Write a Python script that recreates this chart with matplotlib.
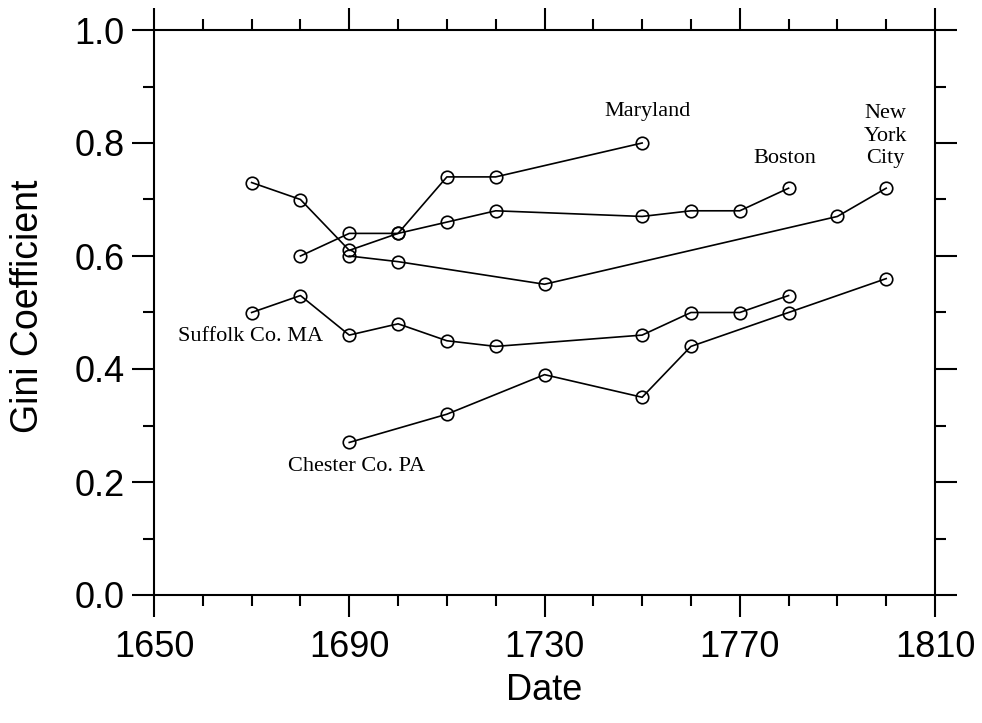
import matplotlib
matplotlib.use("Agg")
import matplotlib.pyplot as plt
from matplotlib.ticker import MultipleLocator

# Data
maryland_x = [1680, 1690, 1700, 1710, 1720, 1750]
maryland_y = [0.60, 0.64, 0.64, 0.74, 0.74, 0.80]

boston_x = [1670, 1680, 1690, 1700, 1710, 1720, 1750, 1760, 1770, 1780]
boston_y = [0.73, 0.70, 0.61, 0.64, 0.66, 0.68, 0.67, 0.68, 0.68, 0.72]

nyc_x = [1690, 1700, 1730, 1790, 1800]
nyc_y = [0.60, 0.59, 0.55, 0.67, 0.72]

suffolk_x = [1670, 1680, 1690, 1700, 1710, 1720, 1750, 1760, 1770, 1780]
suffolk_y = [0.50, 0.53, 0.46, 0.48, 0.45, 0.44, 0.46, 0.50, 0.50, 0.53]

chester_x = [1690, 1710, 1730, 1750, 1760, 1780, 1800]
chester_y = [0.27, 0.32, 0.39, 0.35, 0.44, 0.50, 0.56]

series = [
    (maryland_x, maryland_y),
    (boston_x, boston_y),
    (nyc_x, nyc_y),
    (suffolk_x, suffolk_y),
    (chester_x, chester_y),
]

labels = ["Maryland", "Boston", "New\nYork\nCity", "Suffolk Co. MA", "Chester Co. PA"]
label_x = [1751.2, 1779.3, 1799.8, 1669.8, 1691.6]
label_y = [0.855, 0.773, 0.812, 0.457, 0.228]

x_ticks = [1650, 1690, 1730, 1770, 1810]
y_ticks = [0.0, 0.2, 0.4, 0.6, 0.8, 1.0]

plt.rcParams['font.family'] = ['Liberation Sans', 'DejaVu Sans']

fig = plt.figure(figsize=(9.82, 7.23), dpi=100)
ax = fig.add_axes([154 / 982, 1 - 595 / 723, 781 / 982, 565 / 723])

for xs, ys in series:
    ax.plot(xs, ys, color='black', lw=1.2, marker='o', markersize=9,
            markerfacecolor='none', markeredgecolor='black', markeredgewidth=1.2)

for t, lx, ly in zip(labels, label_x, label_y):
    ax.text(lx, ly, t, ha='center', va='center', fontsize=16,
            family=['Liberation Serif', 'DejaVu Serif'], linespacing=1.25)

ax.set_xlim(1650, 1810)
ax.set_ylim(0, 1.0)
ax.set_xticks(x_ticks)
ax.set_yticks(y_ticks)
ax.set_xticklabels([str(v) for v in x_ticks])
ax.set_yticklabels([f"{v:.1f}" for v in y_ticks])
ax.xaxis.set_minor_locator(MultipleLocator(10))
ax.yaxis.set_minor_locator(MultipleLocator(0.1))

for s in ax.spines.values():
    s.set_linewidth(1.5)

ax.tick_params(which='both', direction='out', top=True, right=True,
               labeltop=False, labelright=False, width=1.5)
ax.tick_params(which='major', length=16)
ax.tick_params(which='minor', length=8)
ax.tick_params(axis='y', which='major', labelsize=26, pad=5)
ax.tick_params(axis='x', which='major', labelsize=26, pad=9)

ax.set_xlabel('Date', fontsize=26, va='center')
ax.xaxis.set_label_coords(0.5, (595 - 690) / 565)
ax.set_ylabel('Gini Coefficient', fontsize=27, va='center')
ax.yaxis.set_label_coords((28 - 154) / 781, (595 - 306) / 565)

fig.savefig('out.png', dpi=100)
